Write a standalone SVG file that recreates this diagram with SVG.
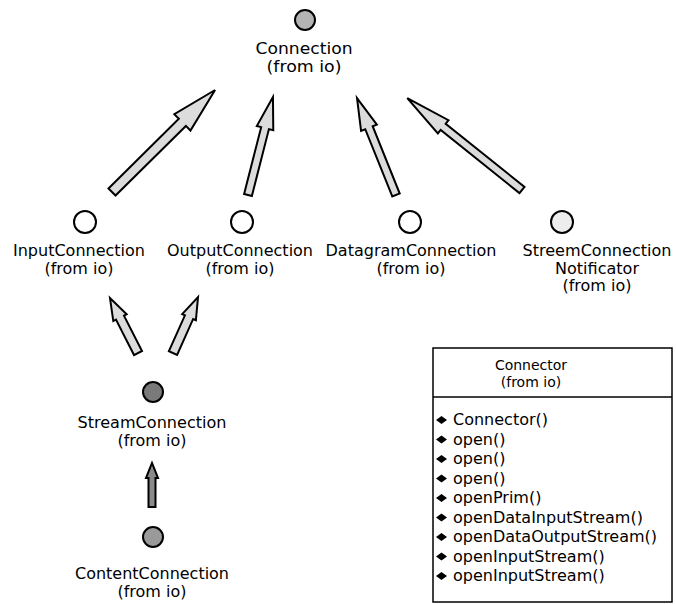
<svg xmlns="http://www.w3.org/2000/svg" width="676" height="604" viewBox="0 0 676 604">
  <style>
    .lbl { font-family: "DejaVu Sans", Verdana, sans-serif; font-size: 15px; fill: #000; text-anchor: middle; }
    .hdr { font-family: "DejaVu Sans", Verdana, sans-serif; font-size: 14px; fill: #000; text-anchor: middle; }
    .op { font-family: "DejaVu Sans", Verdana, sans-serif; font-size: 16px; fill: #000; }
    .iface { stroke: #000; stroke-width: 2; }
    .arrow { fill: #dcdcdc; stroke: #000; stroke-width: 2; stroke-linejoin: miter; }
    .arrow-dark { fill: #8a8a8a; stroke: #000; stroke-width: 2; }
    .box { fill: #fff; stroke: #000; stroke-width: 1.5; }
  </style>
  <defs>
    <path id="dia" d="M0,0 L5.5,-4 L11,0 L5.5,4 Z" fill="#000"/>
  </defs>
  <rect width="676" height="604" fill="#fff"/>

  <!-- generalization arrows (hollow, drawn along +x then rotated) -->
  <g id="connectors">
    <path class="arrow" transform="translate(112,192) rotate(-44.7)" d="M0,-5 L99,-5 L99,-11.5 L145,0 L99,11.5 L99,5 L0,5 Z"/>
    <path class="arrow" transform="translate(248,195) rotate(-75.7)" d="M0,-4 L69,-4 L69,-8.5 L101,0 L69,8.5 L69,4 L0,4 Z"/>
    <path class="arrow" transform="translate(396,195) rotate(-111.9)" d="M0,-4 L72.5,-4 L72.5,-8.5 L104.5,0 L72.5,8.5 L72.5,4 L0,4 Z"/>
    <path class="arrow" transform="translate(522,190) rotate(-141.3)" d="M0,-4 L101,-4 L101,-8.5 L147,0 L101,8.5 L101,4 L0,4 Z"/>
    <path class="arrow" transform="translate(138,353) rotate(-117)" d="M0,-4.5 L39.7,-4.5 L39.7,-7.5 L61.7,0 L39.7,7.5 L39.7,4.5 L0,4.5 Z"/>
    <path class="arrow" transform="translate(173,353) rotate(-65.9)" d="M0,-4.5 L39.3,-4.5 L39.3,-7.5 L61.3,0 L39.3,7.5 L39.3,4.5 L0,4.5 Z"/>
    <path class="arrow-dark" transform="translate(152,507) rotate(-90)" d="M0,-3.5 L29,-3.5 L29,-6 L44,0 L29,6 L29,3.5 L0,3.5 Z"/>
  </g>

  <g id="Connection">
    <circle class="iface" cx="305" cy="20" r="10" fill="#b4b4b4"/>
    <text class="lbl" x="304" y="54" textLength="97" lengthAdjust="spacingAndGlyphs">Connection</text>
    <text class="lbl" x="304" y="72" textLength="75" lengthAdjust="spacingAndGlyphs">(from io)</text>
  </g>

  <g id="InputConnection">
    <circle class="iface" cx="85" cy="222" r="11" fill="#fff"/>
    <text class="lbl" x="79" y="256" textLength="132" lengthAdjust="spacingAndGlyphs">InputConnection</text>
    <text class="lbl" x="79" y="274" textLength="69" lengthAdjust="spacingAndGlyphs">(from io)</text>
  </g>

  <g id="OutputConnection">
    <circle class="iface" cx="242" cy="222" r="11" fill="#fff"/>
    <text class="lbl" x="240" y="256" textLength="146" lengthAdjust="spacingAndGlyphs">OutputConnection</text>
    <text class="lbl" x="240" y="274" textLength="69" lengthAdjust="spacingAndGlyphs">(from io)</text>
  </g>

  <g id="DatagramConnection">
    <circle class="iface" cx="410" cy="222" r="11" fill="#fff"/>
    <text class="lbl" x="411" y="256" textLength="171" lengthAdjust="spacingAndGlyphs">DatagramConnection</text>
    <text class="lbl" x="411" y="274" textLength="69" lengthAdjust="spacingAndGlyphs">(from io)</text>
  </g>

  <g id="StreemConnectionNotificator">
    <circle class="iface" cx="562" cy="222" r="11" fill="#ededed"/>
    <text class="lbl" x="597" y="256" textLength="149" lengthAdjust="spacingAndGlyphs">StreemConnection</text>
    <text class="lbl" x="597" y="273.5" textLength="84" lengthAdjust="spacingAndGlyphs">Notificator</text>
    <text class="lbl" x="597" y="291" textLength="69" lengthAdjust="spacingAndGlyphs">(from io)</text>
  </g>

  <g id="StreamConnection">
    <circle class="iface" cx="153" cy="392" r="10" fill="#7a7a7a"/>
    <text class="lbl" x="152" y="428" textLength="149" lengthAdjust="spacingAndGlyphs">StreamConnection</text>
    <text class="lbl" x="152" y="446" textLength="69" lengthAdjust="spacingAndGlyphs">(from io)</text>
  </g>

  <g id="ContentConnection">
    <circle class="iface" cx="153" cy="537" r="10" fill="#9a9a9a"/>
    <text class="lbl" x="152" y="579" textLength="154" lengthAdjust="spacingAndGlyphs">ContentConnection</text>
    <text class="lbl" x="152" y="597" textLength="69" lengthAdjust="spacingAndGlyphs">(from io)</text>
  </g>

  <g id="Connector">
    <rect class="box" x="433" y="348" width="239" height="254"/>
    <line x1="433" y1="397" x2="672" y2="397" stroke="#000" stroke-width="1.5"/>
    <text class="hdr" x="531" y="370">Connector</text>
    <text class="hdr" x="531" y="387">(from io)</text>
    <g>
      <use href="#dia" x="436" y="420"/><text class="op" x="453" y="425">Connector()</text>
      <use href="#dia" x="436" y="439.5"/><text class="op" x="453" y="444.5">open()</text>
      <use href="#dia" x="436" y="459"/><text class="op" x="453" y="464">open()</text>
      <use href="#dia" x="436" y="478.5"/><text class="op" x="453" y="483.5">open()</text>
      <use href="#dia" x="436" y="498"/><text class="op" x="453" y="503">openPrim()</text>
      <use href="#dia" x="436" y="517.5"/><text class="op" x="453" y="522.5">openDataInputStream()</text>
      <use href="#dia" x="436" y="537"/><text class="op" x="453" y="542">openDataOutputStream()</text>
      <use href="#dia" x="436" y="556.5"/><text class="op" x="453" y="561.5">openInputStream()</text>
      <use href="#dia" x="436" y="576"/><text class="op" x="453" y="581">openInputStream()</text>
    </g>
  </g>
</svg>
